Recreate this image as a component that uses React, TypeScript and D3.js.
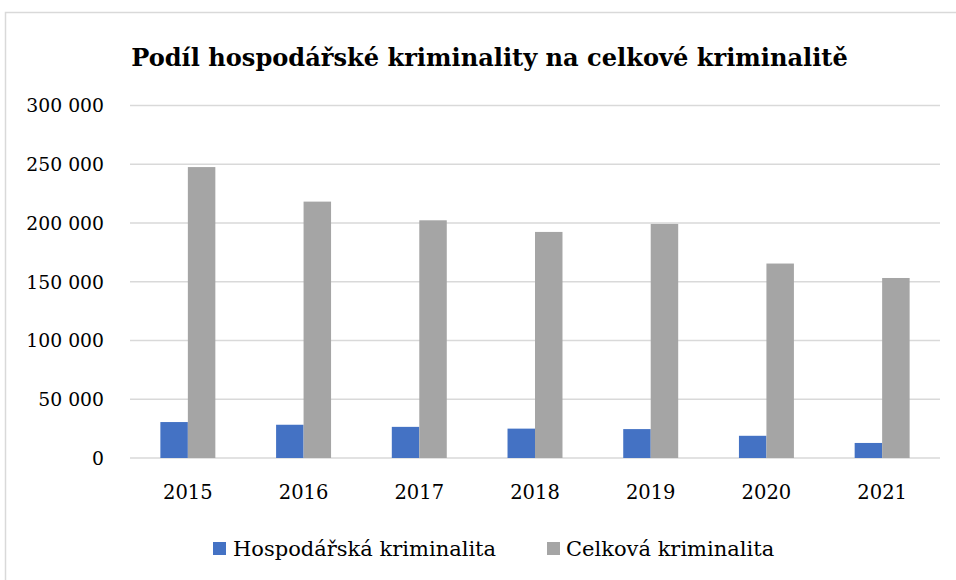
import React from 'react';
import * as d3 from 'd3';

const years = ['2015', '2016', '2017', '2018', '2019', '2020', '2021'];
const seriesNames = ['Hospodářská kriminalita', 'Celková kriminalita'];
const hospodarska = [30600, 28300, 26500, 25000, 24600, 18900, 12800];
const celkova = [247600, 218200, 202300, 192400, 199200, 165500, 153200];
const yTicks = [0, 50000, 100000, 150000, 200000, 250000, 300000];
const colors = ['#4472C4', '#A5A5A5'];

const font = 'DejaVu Serif';

const fmt = (v: number) => d3.format(',')(v).replace(/,/g, ' ');

const App = () => {
  const width = 956;
  const height = 580;
  const margin = { top: 105.5, right: 16, bottom: 122, left: 130 };

  const x0 = d3.scaleBand<string>()
    .domain(years)
    .range([margin.left, width - margin.right])
    .paddingInner(0.525)
    .paddingOuter(0.2625);

  const x1 = d3.scaleBand<string>()
    .domain(seriesNames)
    .range([0, x0.bandwidth()]);

  const y = d3.scaleLinear()
    .domain([0, 300000])
    .range([height - margin.bottom, margin.top]);

  const values = [hospodarska, celkova];

  return (
    <svg width={width} height={height} style={{ position: 'absolute', left: 0, top: 0 }}>
      <rect x={0} y={0} width={width} height={height} fill="#fff" />
      <rect x={5.5} y={12.5} width={width} height={height} fill="#fff" stroke="#d9d9d9" strokeWidth={1.5} />
      <text x={489.5} y={66} textAnchor="middle" fontFamily={font} fontWeight="bold" fontSize={24.1}>
        Podíl hospodářské kriminality na celkové kriminalitě
      </text>

      {yTicks.map(t => (
        <g key={t}>
          <line x1={margin.left} x2={width - margin.right} y1={y(t)} y2={y(t)} stroke="#d9d9d9" strokeWidth={1.5} />
          <text x={104} y={y(t)} dy="0.36em" textAnchor="end" fontFamily={font} fontSize={18.8}>
            {fmt(t)}
          </text>
        </g>
      ))}

      {years.map((yr, i) => (
        <g key={yr} transform={`translate(${x0(yr)},0)`}>
          {seriesNames.map((s, j) => (
            <rect
              key={s}
              x={x1(s)}
              y={y(values[j][i])}
              width={x1.bandwidth()}
              height={y(0) - y(values[j][i])}
              fill={colors[j]}
            />
          ))}
          <text x={x0.bandwidth() / 2} y={499} textAnchor="middle" fontFamily={font} fontSize={19.5}>
            {yr}
          </text>
        </g>
      ))}

      <g fontFamily={font} fontSize={21}>
        <rect x={213} y={542} width={13} height={13} fill={colors[0]} />
        <text x={233} y={556}>{seriesNames[0]}</text>
        <rect x={547} y={542} width={13} height={13} fill={colors[1]} />
        <text x={566} y={556}>{seriesNames[1]}</text>
      </g>
    </svg>
  );
};

export default App;
